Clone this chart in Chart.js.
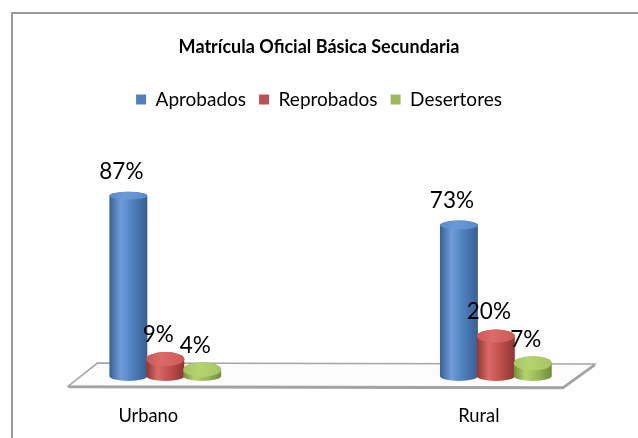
<!DOCTYPE html>
<html><head><meta charset="utf-8">
<script src="https://cdn.jsdelivr.net/npm/chart.js@4.4.1/dist/chart.umd.min.js"></script>
<style>
html,body{margin:0;padding:0;width:638px;height:438px;overflow:hidden;background:#fff;}
#frame{position:absolute;left:11px;top:12px;width:700px;height:500px;border-left:2px solid #9a9a9a;border-top:2px solid #9a9a9a;}
#c{position:absolute;left:0;top:0;}
</style></head><body>
<div id="frame"></div>
<canvas id="c" width="638" height="438"></canvas>
<script>
const categories = ['Urbano', 'Rural'];
const seriesNames = ['Aprobados', 'Reprobados', 'Desertores'];
const aprobados = [87, 73];
const reprobados = [9, 20];
const desertores = [4, 7];
const chartTitle = 'Matrícula Oficial Básica Secundaria';

const palette = [
  {base: '#4F81BD', light: '#6f9dda', dark: '#385f94', cap: '#5b8bcb', capL: '#6b99d6'},
  {base: '#C0504D', light: '#d96a67', dark: '#8e3532', cap: '#cd5956', capL: '#da6b68'},
  {base: '#9BBB59', light: '#b3d36d', dark: '#718c3c', cap: '#a5c663', capL: '#b4d470'}
];
const FONT = 'Lato, "Open Sans", sans-serif';

function drawCylinder(ctx, x, top, base, w, c) {
  const rx = w / 2;
  const h = base - top;
  const ryT = Math.max(3.8, 7.5 - 0.02 * h);
  const ryB = 5;
  const yb = base - 2;
  const g = ctx.createLinearGradient(x - rx, 0, x + rx, 0);
  g.addColorStop(0, c.dark);
  g.addColorStop(0.3, c.light);
  g.addColorStop(0.6, c.base);
  g.addColorStop(1, c.dark);
  ctx.beginPath();
  ctx.moveTo(x - rx, top);
  ctx.lineTo(x - rx, yb);
  ctx.ellipse(x, yb, rx, ryB, 0, Math.PI, 0, true);
  ctx.lineTo(x + rx, top);
  ctx.ellipse(x, top, rx, ryT, 0, 0, Math.PI, true);
  ctx.closePath();
  ctx.fillStyle = g;
  ctx.fill();
  const g2 = ctx.createLinearGradient(x - rx, 0, x + rx, 0);
  g2.addColorStop(0, c.cap);
  g2.addColorStop(0.4, c.capL);
  g2.addColorStop(1, c.cap);
  ctx.beginPath();
  ctx.ellipse(x, top, rx, ryT, 0, 0, Math.PI * 2);
  ctx.fillStyle = g2;
  ctx.fill();
}

const cylinderPlugin = {
  id: 'cylinders',
  beforeDatasetsDraw(chart) {
    const ctx = chart.ctx;
    const xs = chart.scales.x;
    const left = xs.getPixelForValue(0);
    const right = xs.getPixelForValue(categories.length - 1);
    const y0 = chart.scales.y.getPixelForValue(0);
    ctx.save();
    ctx.beginPath();
    ctx.moveTo(left - 97, y0 + 8);
    ctx.lineTo(left - 68, y0 - 15);
    ctx.lineTo(right + 99, y0 - 14);
    ctx.lineTo(right + 67, y0 + 9);
    ctx.closePath();
    ctx.fillStyle = '#fcfcfc';
    ctx.fill();
    ctx.lineWidth = 1.5;
    ctx.strokeStyle = '#a6a6a6';
    ctx.stroke();
    ctx.beginPath();
    ctx.moveTo(left - 97, y0 + 9);
    ctx.lineTo(right + 67, y0 + 10);
    ctx.lineTo(right + 99, y0 - 13);
    ctx.lineWidth = 2.5;
    ctx.strokeStyle = '#a3a3a3';
    ctx.stroke();
    ctx.restore();
  },
  beforeDatasetDraw() { return false; },
  afterDatasetsDraw(chart) {
    const ctx = chart.ctx;
    ctx.save();
    chart.data.datasets.forEach((ds, i) => {
      const meta = chart.getDatasetMeta(i);
      meta.data.forEach(el => {
        drawCylinder(ctx, el.x, el.y, el.base, el.width + 1, palette[i]);
      });
    });
    ctx.fillStyle = '#000';
    ctx.font = '22.5px ' + FONT;
    ctx.textAlign = 'center';
    ctx.textBaseline = 'middle';
    chart.data.datasets.forEach((ds, i) => {
      const meta = chart.getDatasetMeta(i);
      meta.data.forEach((el, j) => {
        ctx.fillText(ds.data[j].y + '%', el.x - 7, el.y - 24);
      });
    });
    ctx.restore();
  }
};

const toPoints = arr => arr.map((v, i) => ({x: i, y: v}));

new Chart(document.getElementById('c'), {
  type: 'bar',
  data: {
    datasets: [
      {label: seriesNames[0], data: toPoints(aprobados), backgroundColor: palette[0].base, borderWidth: 0},
      {label: seriesNames[1], data: toPoints(reprobados), backgroundColor: palette[1].base, borderWidth: 0},
      {label: seriesNames[2], data: toPoints(desertores), backgroundColor: palette[2].base, borderWidth: 0}
    ]
  },
  options: {
    responsive: false,
    animation: false,
    devicePixelRatio: 1,
    categoryPercentage: 0.335,
    barPercentage: 1,
    layout: {padding: {left: 0, right: 0, top: 0, bottom: -16}},
    scales: {
      x: {
        type: 'linear',
        min: -0.5,
        max: 1.43,
        offset: false,
        grid: {display: false, drawTicks: false},
        border: {display: false},
        afterBuildTicks: scale => { scale.ticks = categories.map((c, i) => ({value: i})); },
        ticks: {labelOffset: -17, padding: 27, color: '#000', autoSkip: false, maxRotation: 0,
                font: {family: FONT, size: 18.3},
                callback: v => categories[v]}
      },
      y: {display: false, min: 0, max: 123.6}
    },
    plugins: {
      title: {display: true, text: chartTitle, color: '#000',
              font: {family: FONT, size: 18, weight: 'bold'}, padding: {top: 36.2, bottom: 19.2}},
      legend: {display: true, labels: {boxWidth: 10, boxHeight: 10, padding: 13, color: '#000',
              font: {family: FONT, size: 19}}},
      tooltip: {enabled: false}
    }
  },
  plugins: [cylinderPlugin]
});
</script>
</body></html>
